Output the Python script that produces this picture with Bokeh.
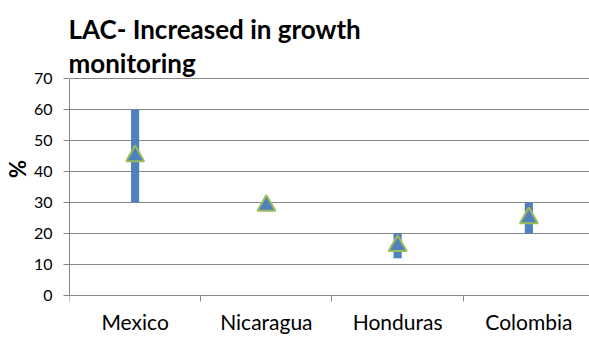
from bokeh.plotting import figure
from bokeh.models import Range1d, FixedTicker, Label, ColumnDataSource
from bokeh.embed import file_html
from bokeh.resources import INLINE

categories = ["Mexico", "Nicaragua", "Honduras", "Colombia"]
low_values = [30, 28, 12, 20]
high_values = [60, 30, 20, 30]
point_values = [45, 29, 16, 25]
y_ticks = [0, 10, 20, 30, 40, 50, 60, 70]
title_lines = ["LAC- Increased in growth", "monitoring"]

BLUE = "#4F81BD"
GREEN = "#9BBB59"
GRAY = "#868686"

# pixel geometry of the reference: 0 at y=295, 10 units = 31 px, category width 131.5 px
PX_PER_UNIT = 3.1
xs = list(range(len(categories)))
src = ColumnDataSource(dict(x=xs, low=low_values, high=high_values, mid=point_values))

p = figure(width=589, height=337, output_backend="svg", toolbar_location=None,
           x_range=Range1d(-0.5, -0.5 + 521 / 131.5),
           y_range=Range1d(-42 / PX_PER_UNIT, 295 / PX_PER_UNIT),
           min_border_left=68, min_border_right=0, min_border_top=0, min_border_bottom=0)
p.outline_line_color = None
p.background_fill_color = "white"
p.border_fill_color = "white"

p.vbar(x="x", bottom="low", top="high", width=0.062, fill_color=BLUE, line_color=None, source=src)
p.scatter(x="x", y="mid", marker="triangle", size=18, fill_color=BLUE, line_color=GREEN,
          line_width=2, source=src)

# y axis
p.yaxis.ticker = FixedTicker(ticks=y_ticks)
p.yaxis.bounds = (0, 70)
p.yaxis.axis_line_color = GRAY
p.yaxis.major_tick_line_color = GRAY
p.yaxis.major_tick_out = 6
p.yaxis.major_tick_in = 0
p.yaxis.minor_tick_line_color = None
p.yaxis.major_label_text_font = "Lato"
p.yaxis.major_label_text_font_size = "16px"
p.yaxis.major_label_text_color = "black"
p.yaxis.major_label_standoff = 11
p.yaxis.axis_label = "%"
p.yaxis.axis_label_text_font = "Lato"
p.yaxis.axis_label_text_font_style = "bold"
p.yaxis.axis_label_text_font_size = "22px"
p.yaxis.axis_label_text_color = "black"
p.yaxis.axis_label_standoff = 0

# x axis drawn at y = 0 inside the canvas
p.xaxis.fixed_location = 0
p.xaxis.bounds = (-0.5, 3.5)
p.xaxis.ticker = FixedTicker(ticks=xs, minor_ticks=[-0.5, 0.5, 1.5, 2.5, 3.5])
p.xaxis.major_label_overrides = {i: c for i, c in zip(xs, categories)}
p.xaxis.axis_line_color = GRAY
p.xaxis.major_tick_line_color = None
p.xaxis.major_tick_out = 0
p.xaxis.major_tick_in = 0
p.xaxis.minor_tick_line_color = GRAY
p.xaxis.minor_tick_out = 6
p.xaxis.minor_tick_in = 0
p.xaxis.major_label_text_font = "Lato"
p.xaxis.major_label_text_font_size = "21px"
p.xaxis.major_label_text_color = "black"
p.xaxis.major_label_standoff = 7

p.xgrid.grid_line_color = None
p.ygrid.ticker = FixedTicker(ticks=y_ticks)
p.ygrid.grid_line_color = GRAY
p.ygrid.grid_line_width = 1

for text, py in zip(title_lines, [28, 62]):
    p.add_layout(Label(x=-0.508, y=(295 - py) / PX_PER_UNIT, text=text, text_font="Lato",
                       text_font_style="bold", text_font_size="26px", text_color="black",
                       text_baseline="alphabetic", text_align="left"))

open("out.html", "w").write(file_html(p, INLINE))
